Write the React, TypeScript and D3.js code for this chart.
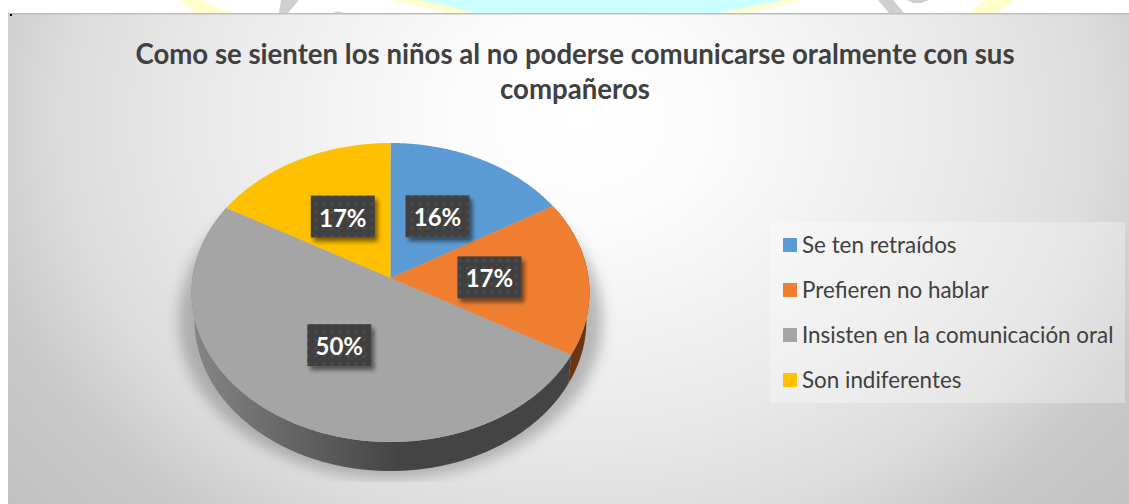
import React from "react";
import * as d3 from "d3";

const categories = ["Se ten retraídos", "Prefieren no hablar", "Insisten en la comunicación oral", "Son indiferentes"];
const values = [16.49, 16.76, 50, 16.75];
const colors = ["#5b9bd5", "#ef7e31", "#a5a5a5", "#ffc000"];
const wallColors = ["#2f5272", "#6b3612", "url(#wallGrad)", "#7f6000"];
const titleLines = ["Como se sienten los niños al no poderse comunicarse oralmente con sus", "compañeros"];

const W = 1129, H = 504;
const toRad = Math.PI / 180;

// Perspective projection of the pie's disc onto the screen
const P = 0.097;
const project = (theta: number, f: number, cx: number, cy: number, A: number, B: number): [number, number] => {
  const u = f * Math.sin(theta), v = -f * Math.cos(theta);
  const w = 1 - P * v;
  return [cx + (A * u) / w, cy + (B * v) / w];
};
const top = (t: number, f = 1) => project(t, f, 390.5, 278, 198, 148.1);
const bottom = (t: number) => project(t, 1, 390.5, 306, 195, 149);

const pie = d3.pie<number>().sort(null).startAngle(0).endAngle(2 * Math.PI);
const arcs = pie(values);
const line = d3.line();
const rim = (a: number, b: number, fn: (t: number) => [number, number]) => {
  const n = Math.max(2, Math.ceil(Math.abs(b - a) / (0.5 * toRad)));
  return d3.range(n + 1).map((i) => fn(a + ((b - a) * i) / n));
};
const sliceTop = (a: number, b: number) => line([[390.5, 278], ...rim(a, b, (t) => top(t))])! + "Z";
const wall = (a: number, b: number) => line([...rim(a, b, (t) => top(t)), ...rim(b, a, bottom)])! + "Z";
const visA = 60 * toRad, visB = 300 * toRad;

const legendY = d3.scalePoint<string>().domain(categories).range([245, 380]);

const fragments: [string, string][] = [
  ["#ffffcc", "180,0 201,0 230,13 194,13"],
  ["#ffffcc", "392,0 421,0 475,13 450,13"],
  ["#ccffff", "421,0 785,0 720,13 475,13"],
  ["#ffffcc", "785,0 805,0 745,13 720,13"],
  ["#ffffcc", "986,0 1015,0 997,13 968,13"],
  ["#cfcfcf", "281,0 299,0 288,13 279,13"],
  ["#d8d8d8", "333,13 338,11 344,13"],
  ["#cfcfcf", "878,0 893,0 904,13 889,13"],
  ["#cfcfcf", "907,0 929,0 921,3 913,3"],
];

export default function App() {
  return (
    <svg width={W} height={H} viewBox={`0 0 ${W} ${H}`} style={{ position: "absolute", left: 0, top: 0, display: "block", background: "#fff" }}>
      <defs>
        <radialGradient id="bg" gradientUnits="userSpaceOnUse" cx={0} cy={0} r={1.25} gradientTransform="translate(580,120) scale(620,500)">
          <stop offset="0" stopColor="#ffffff" />
          <stop offset="0.16" stopColor="#fcfcfc" />
          <stop offset="0.51" stopColor="#e8e8e8" />
          <stop offset="0.67" stopColor="#dcdcdc" />
          <stop offset="0.8" stopColor="#c9c9c9" />
          <stop offset="1" stopColor="#bfbfbf" />
        </radialGradient>
        <linearGradient id="wallGrad" gradientUnits="userSpaceOnUse" x1={195} x2={400} y1={0} y2={0}>
          <stop offset="0" stopColor="#858585" />
          <stop offset="0.45" stopColor="#666666" />
          <stop offset="1" stopColor="#444444" />
        </linearGradient>
        <filter id="blur" x="-20%" y="-20%" width="140%" height="140%">
          <feGaussianBlur stdDeviation="7" />
        </filter>
        <filter id="labelShadow" x="-20%" y="-20%" width="150%" height="160%">
          <feDropShadow dx="3" dy="4" stdDeviation="2" floodColor="#000" floodOpacity="0.5" />
        </filter>
        <pattern id="dots" width="8" height="8" patternUnits="userSpaceOnUse">
          <rect width="8" height="8" fill="#404040" />
          <circle cx="4" cy="4" r="1.5" fill="#4e4e4e" />
        </pattern>
        <clipPath id="shadowClip">
          <rect x={0} y={0} width={W} height={482} />
        </clipPath>
      </defs>

      {fragments.map(([c, p], i) => (
        <polygon key={i} points={p} fill={c} />
      ))}

      <rect x={8} y={14} width={W - 8} height={H - 14} fill="url(#bg)" />
      <rect x={8} y={13} width={W - 8} height={1.5} fill="#bdbdbd" />
      <rect x={10} y={14} width={2} height={2} fill="#000" />

      <text fontFamily="Lato, sans-serif" fontWeight={700} fontSize={27.6} fill="#404040" textAnchor="middle">
        {titleLines.map((l, i) => (
          <tspan key={i} x={575} y={63.5 + i * 35.5}>{l}</tspan>
        ))}
      </text>

      <g clipPath="url(#shadowClip)">
        <ellipse cx={390.5} cy={320} rx={212} ry={158} fill="#666" opacity={0.42} filter="url(#blur)" />
      </g>

      {arcs.map((a, i) => {
        const s = Math.max(a.startAngle, visA), e = Math.min(a.endAngle, visB);
        return e > s ? <path key={i} d={wall(s, e)} fill={wallColors[i]} /> : null;
      })}
      {arcs.map((a, i) => (
        <path key={i} d={sliceTop(a.startAngle, a.endAngle)} fill={colors[i]} />
      ))}

      {arcs.map((a, i) => {
        const [x, y] = top((a.startAngle + a.endAngle) / 2, 0.5);
        return (
          <g key={i}>
            <rect x={x - 32} y={y - 21} width={64} height={42} fill="url(#dots)" filter="url(#labelShadow)" />
            <text x={x} y={y + 10} textAnchor="middle" fontFamily="Lato, sans-serif" fontWeight={700} fontSize={24} fill="#fff">
              {`${Math.round(values[i])}%`}
            </text>
          </g>
        );
      })}

      <rect x={770} y={222} width={355} height={181} fill="#fff" opacity={0.3} />
      {categories.map((c, i) => {
        const y = legendY(c)!;
        return (
          <g key={c}>
            <rect x={783} y={y - 7} width={14} height={14} fill={colors[i]} />
            <text x={802} y={y + 7.5} fontFamily="Lato, sans-serif" fontSize={22.4} fill="#404040">{c}</text>
          </g>
        );
      })}
    </svg>
  );
}
